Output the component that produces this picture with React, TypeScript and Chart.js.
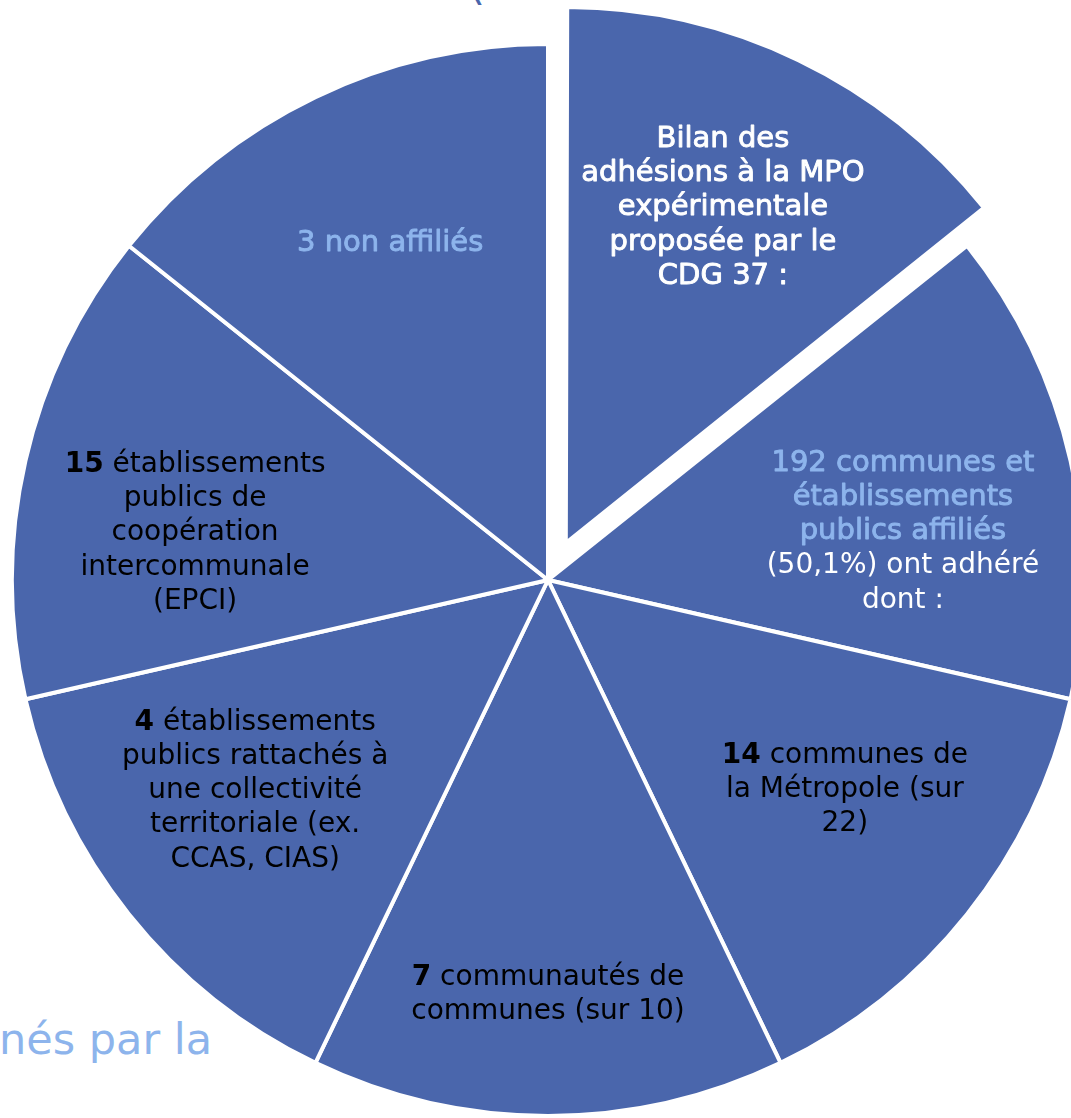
import React, { useEffect, useRef } from "react";
import { Chart, registerables } from "chart.js";

Chart.register(...registerables);

// ---- data ----
const CATEGORIES: string[] = [
  "Bilan des adhésions à la MPO expérimentale proposée par le CDG 37",
  "192 communes et établissements publics affiliés (50,1%) ont adhéré",
  "14 communes de la Métropole (sur 22)",
  "7 communautés de communes (sur 10)",
  "4 établissements publics rattachés à une collectivité territoriale (ex. CCAS, CIAS)",
  "15 établissements publics de coopération intercommunale (EPCI)",
  "3 non affiliés",
];
const VALUES: number[] = [1, 1, 1, 1, 1, 1, 1];
const EXPLODED: boolean[] = [true, false, false, false, false, false, false];

// text of each slice: lines made of [text, style] runs
// styles: W = white medium, w = white, l = light blue medium, k = black, K = black bold
type Run = [string, string];
const LABEL_LINES: Run[][][] = [
  [[["Bilan des", "W"]], [["adhésions à la MPO", "W"]], [["expérimentale", "W"]], [["proposée par le", "W"]], [["CDG 37 :", "W"]]],
  [[["192 communes et", "l"]], [["établissements", "l"]], [["publics affiliés", "l"]], [["(50,1%) ont adhéré", "w"]], [["dont :", "w"]]],
  [[["14", "K"], [" communes de", "k"]], [["la Métropole (sur", "k"]], [["22)", "k"]]],
  [[["7", "K"], [" communautés de", "k"]], [["communes (sur 10)", "k"]]],
  [[["4", "K"], [" établissements", "k"]], [["publics rattachés à", "k"]], [["une collectivité", "k"]], [["territoriale (ex.", "k"]], [["CCAS, CIAS)", "k"]]],
  [[["15", "K"], [" établissements", "k"]], [["publics de", "k"]], [["coopération", "k"]], [["intercommunale", "k"]], [["(EPCI)", "k"]]],
  [[["3 non affiliés", "l"]]],
];

// ---- layout / style ----
const CANVAS_SIZE = 1200;
const CENTER_X = 548;
const CENTER_Y = 580;
const PIE_RADIUS = 536;
const EXPLODE_OFFSET = 164;
const SLICE_COLOR = "#4A66AC";
const LIGHT_BLUE = "#8DB4EC";
const FONT_FAMILY = '"DejaVu Sans", Verdana, sans-serif';
const LINE_H = 34.3;
const LABEL_Y_SHIFT = 3;
// label anchor: [fraction of radius, angle shift in degrees from slice middle]
const LABEL_POLAR: [number, number][] = [
  [0.696, -0.8],
  [0.669, 4.65],
  [0.675, -3.7],
  [0.768, 0],
  [0.67, 3.2],
  [0.665, -4.8],
  [0.699, 0.8],
];

const styleFont = (s: string) => {
  if (s === "K") return `bold 28px ${FONT_FAMILY}`;
  if (s === "W" || s === "l") return `29px ${FONT_FAMILY}`;
  return `28px ${FONT_FAMILY}`;
};
const styleColor = (s: string) =>
  s === "w" || s === "W" ? "#FFFFFF" : s === "l" ? LIGHT_BLUE : "#000000";
const styleStroke = (s: string) => (s === "W" || s === "l" ? 0.9 : 0);

const explodeFixPlugin = {
  id: "explodeFix",
  afterDatasetsUpdate(chart: any) {
    const meta = chart.getDatasetMeta(0);
    meta.data.forEach((arc: any) => {
      const off = (arc.options.offset || 0) / 4;
      if (!off) return;
      const fix = 1 - Math.sin(Math.min(Math.PI, arc.circumference || 0));
      arc.outerRadius = arc.outerRadius - off * fix;
    });
  },
};

const labelPlugin = {
  id: "sliceLabels",
  afterDatasetsDraw(chart: any) {
    const ctx: CanvasRenderingContext2D = chart.ctx;
    const meta = chart.getDatasetMeta(0);
    const R = meta.controller.outerRadius;
    ctx.save();
    meta.data.forEach((arc: any, i: number) => {
      const p = arc.getProps(["x", "y", "startAngle", "endAngle"], true);
      const off = (arc.options.offset || 0) / 4;
      const mid = (p.startAngle + p.endAngle) / 2;
      const cx = p.x + Math.cos(mid) * off;
      const cy = p.y + Math.sin(mid) * off;
      const [f, d] = LABEL_POLAR[i];
      const a = mid + (d * Math.PI) / 180;
      const lx = cx + Math.cos(a) * f * R;
      const ly = cy + Math.sin(a) * f * R + LABEL_Y_SHIFT;
      const lines = LABEL_LINES[i];
      const n = lines.length;
      lines.forEach((line, j) => {
        const y = ly + (j - (n - 1) / 2) * LINE_H;
        let total = 0;
        const widths = line.map(([t, s]) => {
          ctx.font = styleFont(s);
          const w = ctx.measureText(t).width;
          total += w;
          return w;
        });
        let x = lx - total / 2;
        line.forEach(([t, s], k) => {
          ctx.font = styleFont(s);
          ctx.fillStyle = styleColor(s);
          ctx.textAlign = "left";
          ctx.textBaseline = "middle";
          ctx.fillText(t, x, y);
          const sw = styleStroke(s);
          if (sw > 0) {
            ctx.strokeStyle = styleColor(s);
            ctx.lineWidth = sw;
            ctx.lineJoin = "round";
            ctx.strokeText(t, x, y);
          }
          x += widths[k];
        });
      });
    });
    ctx.restore();
  },
};

export default function App() {
  const canvasRef = useRef<HTMLCanvasElement | null>(null);

  useEffect(() => {
    if (!canvasRef.current) return;
    const chart = new Chart(canvasRef.current, {
      type: "pie",
      data: {
        labels: CATEGORIES,
        datasets: [
          {
            data: VALUES,
            backgroundColor: SLICE_COLOR,
            borderColor: "#FFFFFF",
            borderWidth: 4,
            offset: EXPLODED.map((e) => (e ? EXPLODE_OFFSET : 0)),
            radius: PIE_RADIUS,
          } as any,
        ],
      },
      options: {
        responsive: false,
        animation: false,
        events: [],
        layout: { padding: 0 },
        plugins: {
          legend: { display: false },
          tooltip: { enabled: false },
        },
      },
      plugins: [explodeFixPlugin, labelPlugin],
    });
    return () => chart.destroy();
  }, []);

  return (
    <div
      style={{
        position: "fixed",
        left: 0,
        top: 0,
        width: 1071,
        height: 1118,
        overflow: "hidden",
        background: "#FFFFFF",
      }}
    >
      <div
        style={{
          position: "absolute",
          left: 468,
          top: -38,
          fontFamily: FONT_FAMILY,
          fontSize: 44,
          lineHeight: 1,
          color: SLICE_COLOR,
        }}
      >
        (
      </div>
      <div
        style={{
          position: "absolute",
          left: -1,
          top: 1018,
          fontFamily: FONT_FAMILY,
          fontSize: 43,
          lineHeight: 1,
          color: LIGHT_BLUE,
          whiteSpace: "nowrap",
        }}
      >
        nés par la
      </div>
      <canvas
        ref={canvasRef}
        width={CANVAS_SIZE}
        height={CANVAS_SIZE}
        style={{
          position: "absolute",
          left: CENTER_X - CANVAS_SIZE / 2,
          top: CENTER_Y - CANVAS_SIZE / 2,
          width: CANVAS_SIZE,
          height: CANVAS_SIZE,
        }}
      />
    </div>
  );
}
